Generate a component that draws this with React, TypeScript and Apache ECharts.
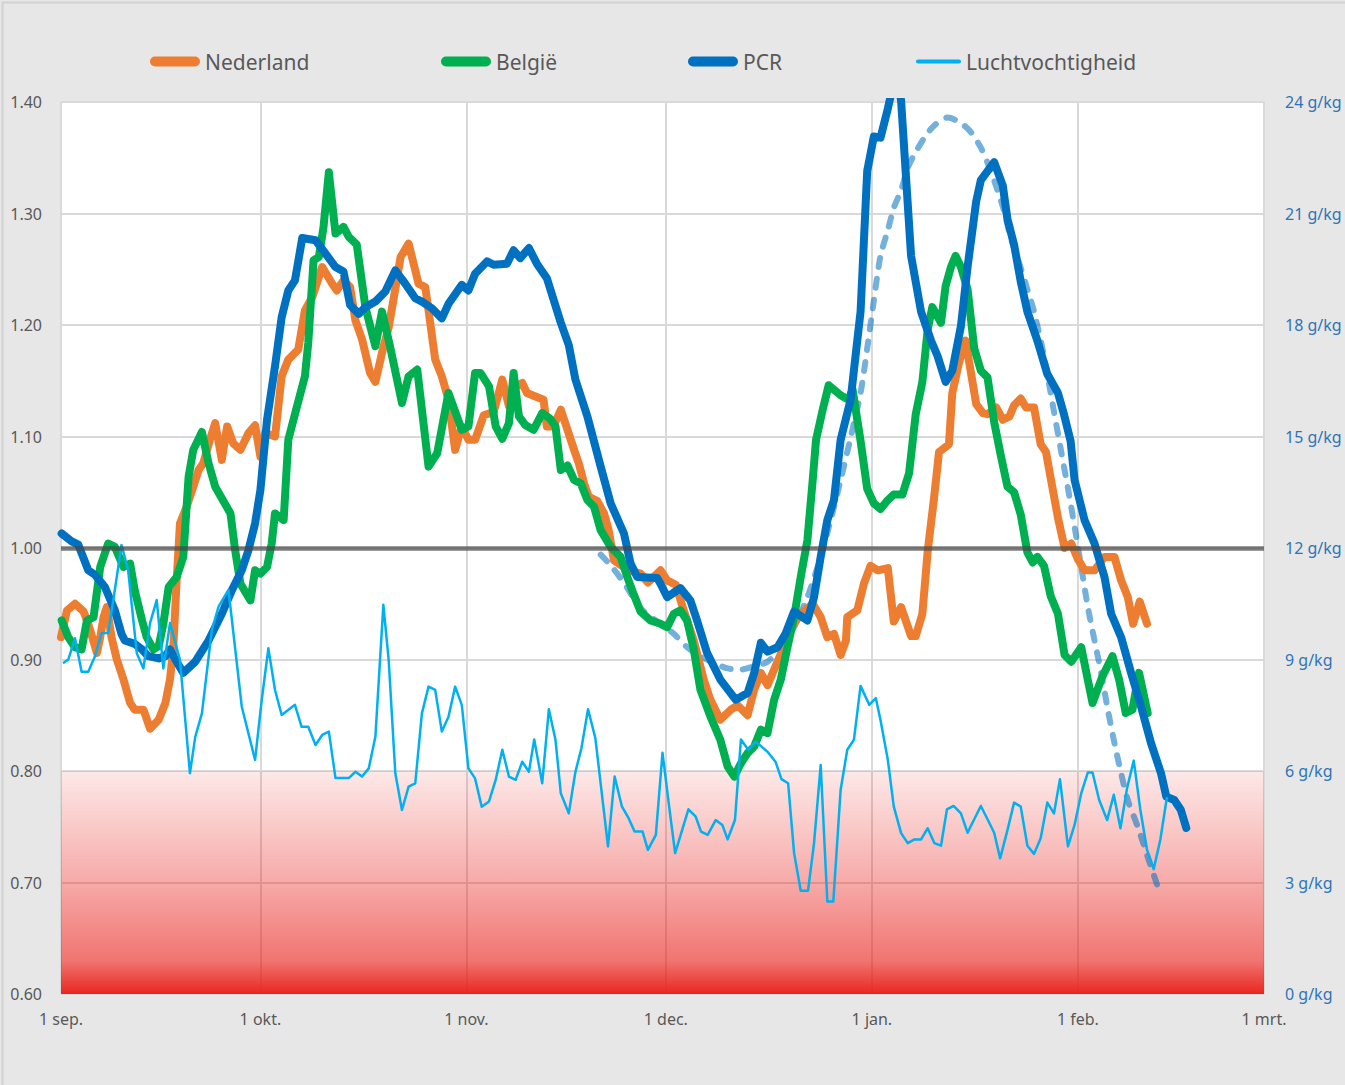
import React, { useEffect, useRef } from "react";
import * as echarts from "echarts";

// Day offsets counted from 1 September; month starts carry the axis labels.
const monthTicks = [0, 30, 61, 91, 122, 153, 181];
const monthLabels = ["1 sep.", "1 okt.", "1 nov.", "1 dec.", "1 jan.", "1 feb.", "1 mrt."];

const legendNames = ["Nederland", "België", "PCR", "Luchtvochtigheid"];

// [day, R-value]
const nederland: [number, number][] = [
  [0, 0.92], [0.9, 0.944], [2.1, 0.95], [3.4, 0.943], [4.1, 0.932], [5.4, 0.906], [5.9, 0.92], [6.4, 0.938],
  [6.9, 0.947], [7.6, 0.92], [8.4, 0.9], [9.4, 0.882], [10.4, 0.861], [11.1, 0.855], [12.4, 0.855], [13.4, 0.838],
  [14.7, 0.846], [15.7, 0.861], [16.4, 0.882], [16.9, 0.911], [17.4, 0.971], [17.9, 1.022], [18.9, 1.037],
  [19.9, 1.055], [20.7, 1.07], [21.4, 1.076], [22.4, 1.097], [23.2, 1.112], [24.2, 1.079], [25.0, 1.109],
  [25.9, 1.094], [27.0, 1.088], [28.2, 1.103], [29.2, 1.11], [30.0, 1.082], [30.7, 1.103], [32.2, 1.1],
  [33.2, 1.154], [34.2, 1.169], [35.7, 1.178], [36.7, 1.213], [37.8, 1.225], [39.3, 1.252], [40.8, 1.237],
  [41.5, 1.231], [42.5, 1.24], [43.5, 1.234], [44.3, 1.204], [45.3, 1.187], [46.5, 1.157], [47.3, 1.149],
  [48.3, 1.175], [49.3, 1.198], [50.0, 1.222], [51.1, 1.261], [52.3, 1.273], [53.3, 1.249], [53.8, 1.237],
  [54.8, 1.234], [55.3, 1.213], [56.3, 1.169], [57.3, 1.154], [58.3, 1.133], [59.3, 1.088], [60.3, 1.109],
  [61.3, 1.097], [62.3, 1.097], [63.6, 1.119], [65.1, 1.122], [66.4, 1.151], [67.4, 1.127], [68.4, 1.145],
  [69.4, 1.148], [70.1, 1.139], [72.6, 1.133], [73.1, 1.109], [74.1, 1.109], [75.2, 1.124], [76.2, 1.106],
  [77.2, 1.088], [77.9, 1.076], [78.7, 1.058], [79.4, 1.046], [80.7, 1.042], [81.7, 1.031], [82.4, 1.016],
  [83.2, 0.989], [83.9, 0.986], [85.4, 0.98], [87.2, 0.977], [88.3, 0.969], [90.2, 0.98], [91.2, 0.971],
  [92.5, 0.967], [93.7, 0.944], [95.2, 0.917], [96.7, 0.882], [97.7, 0.864], [99.2, 0.846], [100.8, 0.855],
  [101.8, 0.859], [103.3, 0.85], [104.3, 0.873], [105.3, 0.888], [106.3, 0.877], [107.3, 0.891], [108.8, 0.912],
  [110.0, 0.929], [111.3, 0.941], [113.1, 0.95], [114.3, 0.938], [115.3, 0.92], [116.3, 0.923], [117.3, 0.904],
  [118.1, 0.917], [118.3, 0.938], [119.8, 0.944], [120.8, 0.968], [121.8, 0.984], [122.9, 0.98], [124.4, 0.982],
  [125.3, 0.934], [126.4, 0.947], [127.9, 0.921], [128.6, 0.921], [129.6, 0.941], [130.4, 0.997], [131.4, 1.047],
  [132.1, 1.086], [133.6, 1.093], [134.1, 1.139], [135.1, 1.166], [136.1, 1.186], [137.7, 1.129], [138.7, 1.121],
  [139.4, 1.12], [140.7, 1.126], [141.7, 1.115], [142.7, 1.118], [143.4, 1.128], [144.4, 1.134], [145.2, 1.126],
  [146.4, 1.126], [147.4, 1.093], [148.2, 1.086], [149.2, 1.053], [150.0, 1.027], [151.0, 1.0], [152.0, 1.004],
  [153.0, 0.99], [154.0, 0.98], [155.5, 0.98], [157.0, 0.992], [158.5, 0.992], [159.5, 0.971], [160.5, 0.956],
  [161.3, 0.932], [162.3, 0.952], [163.4, 0.932],
];

const belgie: [number, number][] = [
  [0.1, 0.935], [1.1, 0.92], [2.1, 0.911], [3.1, 0.909], [3.9, 0.935], [4.9, 0.938], [5.9, 0.983], [7.1, 1.004],
  [8.1, 1.001], [9.4, 0.983], [10.4, 0.986], [11.1, 0.962], [12.2, 0.935], [12.9, 0.92], [13.9, 0.909],
  [14.7, 0.912], [15.4, 0.932], [16.2, 0.965], [17.4, 0.974], [18.4, 0.992], [19.2, 1.064], [19.9, 1.088],
  [21.2, 1.104], [22.2, 1.076], [23.2, 1.055], [25.5, 1.031], [26.2, 0.998], [27.0, 0.968], [28.5, 0.953],
  [29.2, 0.98], [30.0, 0.977], [31.0, 0.983], [31.7, 1.004], [32.2, 1.031], [33.5, 1.025], [34.2, 1.097],
  [35.5, 1.127], [36.7, 1.154], [37.2, 1.184], [38.0, 1.258], [38.8, 1.261], [39.5, 1.288], [40.3, 1.337],
  [41.3, 1.282], [42.5, 1.288], [43.3, 1.279], [44.5, 1.272], [45.8, 1.216], [47.3, 1.181], [48.3, 1.212],
  [49.5, 1.181], [51.3, 1.13], [52.3, 1.154], [53.6, 1.16], [55.3, 1.073], [56.6, 1.085], [58.3, 1.139],
  [60.3, 1.106], [61.3, 1.109], [62.3, 1.157], [63.1, 1.157], [64.4, 1.145], [65.4, 1.109], [66.4, 1.098],
  [67.4, 1.112], [68.1, 1.157], [68.9, 1.118], [69.9, 1.11], [71.1, 1.106], [72.4, 1.121], [73.6, 1.116],
  [74.4, 1.109], [75.2, 1.07], [76.2, 1.074], [77.2, 1.061], [78.2, 1.058], [79.2, 1.043], [80.2, 1.037],
  [81.2, 1.016], [82.7, 1.001], [84.2, 0.992], [85.2, 0.974], [86.0, 0.961], [87.2, 0.943], [88.7, 0.935],
  [90.2, 0.932], [91.2, 0.929], [92.2, 0.941], [93.2, 0.944], [94.2, 0.935], [95.2, 0.909], [96.2, 0.873],
  [97.7, 0.849], [99.2, 0.828], [100.3, 0.804], [101.3, 0.795], [102.3, 0.807], [103.3, 0.816], [104.3, 0.822],
  [105.3, 0.837], [106.3, 0.834], [107.3, 0.864], [108.3, 0.882], [109.3, 0.911], [110.3, 0.938], [111.3, 0.974],
  [112.3, 1.007], [113.1, 1.061], [113.6, 1.097], [114.6, 1.124], [115.5, 1.146], [117.3, 1.137], [118.5, 1.133],
  [119.1, 1.142], [120.3, 1.096], [121.3, 1.053], [122.3, 1.04], [123.3, 1.035], [124.4, 1.043], [125.3, 1.048],
  [126.6, 1.048], [127.6, 1.067], [128.6, 1.12], [129.6, 1.149], [130.4, 1.196], [131.1, 1.216], [132.4, 1.202],
  [133.1, 1.235], [133.9, 1.252], [134.6, 1.262], [135.4, 1.252], [136.4, 1.232], [137.4, 1.179], [138.4, 1.159],
  [139.4, 1.153], [140.4, 1.113], [141.4, 1.083], [142.4, 1.055], [143.4, 1.05], [144.4, 1.03], [145.4, 0.996],
  [146.2, 0.987], [146.9, 0.992], [147.9, 0.984], [148.9, 0.957], [150.0, 0.941], [151.0, 0.904], [152.0, 0.898],
  [153.5, 0.911], [155.2, 0.861], [156.7, 0.885], [158.2, 0.903], [159.2, 0.882], [160.2, 0.852], [161.2, 0.855],
  [162.2, 0.888], [163.5, 0.852],
];

const pcr: [number, number][] = [
  [0.1, 1.013], [1.6, 1.006], [2.6, 1.003], [4.1, 0.98], [5.1, 0.976], [6.6, 0.965], [8.1, 0.944], [9.1, 0.923],
  [9.6, 0.917], [11.1, 0.914], [12.2, 0.909], [13.1, 0.903], [14.7, 0.901], [15.7, 0.903], [16.4, 0.909],
  [17.2, 0.9], [18.4, 0.888], [20.2, 0.898], [22.2, 0.917], [24.2, 0.941], [25.7, 0.962], [27.2, 0.98],
  [28.2, 0.998], [29.2, 1.022], [30.0, 1.052], [31.0, 1.115], [32.2, 1.163], [33.2, 1.207], [34.2, 1.231],
  [35.2, 1.24], [36.3, 1.278], [38.3, 1.276], [39.8, 1.264], [41.3, 1.252], [42.5, 1.248], [43.5, 1.218],
  [44.8, 1.21], [45.8, 1.216], [47.3, 1.221], [48.8, 1.23], [50.3, 1.249], [51.8, 1.237], [53.3, 1.224],
  [54.3, 1.221], [55.8, 1.215], [57.3, 1.206], [58.3, 1.219], [60.3, 1.236], [61.3, 1.231], [62.3, 1.246],
  [64.1, 1.257], [65.1, 1.254], [67.1, 1.255], [68.1, 1.267], [69.1, 1.26], [70.4, 1.269], [71.6, 1.255],
  [73.1, 1.242], [75.2, 1.202], [76.4, 1.182], [77.4, 1.151], [79.2, 1.118], [81.2, 1.073], [82.7, 1.04],
  [84.7, 1.013], [85.7, 0.986], [86.7, 0.974], [89.7, 0.973], [90.2, 0.968], [91.2, 0.956], [93.2, 0.964],
  [94.7, 0.953], [95.7, 0.935], [97.2, 0.906], [99.2, 0.882], [101.5, 0.864], [103.3, 0.87], [104.3, 0.888],
  [105.3, 0.915], [106.3, 0.907], [107.8, 0.911], [109.0, 0.923], [110.3, 0.943], [112.3, 0.935], [113.3, 0.956],
  [114.3, 0.992], [115.3, 1.025], [116.3, 1.043], [117.3, 1.097], [118.8, 1.133], [120.3, 1.212], [121.3, 1.338],
  [122.3, 1.369], [123.3, 1.368], [124.4, 1.394], [125.2, 1.415], [126.1, 1.413], [126.4, 1.401], [127.9, 1.262],
  [129.4, 1.212], [130.9, 1.186], [131.9, 1.172], [133.1, 1.149], [134.1, 1.159], [135.4, 1.199], [136.4, 1.252],
  [137.7, 1.311], [138.4, 1.33], [140.4, 1.346], [141.7, 1.325], [142.4, 1.295], [143.4, 1.272], [144.4, 1.239],
  [145.4, 1.212], [146.9, 1.186], [148.4, 1.156], [150.0, 1.139], [150.9, 1.12], [151.9, 1.096], [152.5, 1.061],
  [154.0, 1.025], [155.5, 1.004], [157.0, 0.974], [158.0, 0.941], [159.5, 0.92], [161.0, 0.888], [162.5, 0.858],
  [164.0, 0.825], [165.5, 0.798], [166.3, 0.777], [167.5, 0.774], [168.5, 0.765], [169.3, 0.749],
];

// [day, g/kg]
const luchtvochtigheid: [number, number][] = [
  [0.3, 8.9], [1.1, 9.0], [2.1, 9.57], [3.1, 8.67], [4.1, 8.67], [5.1, 9.08], [6.1, 9.71], [7.1, 9.71],
  [8.1, 10.87], [9.1, 12.08], [10.1, 11.41], [11.4, 9.17], [12.4, 8.76], [13.4, 9.98], [14.4, 10.6], [15.4, 8.76],
  [16.4, 9.98], [17.9, 8.99], [19.4, 5.94], [20.2, 6.92], [21.2, 7.55], [22.7, 9.8], [23.7, 10.42], [25.2, 10.87],
  [27.2, 7.73], [29.2, 6.3], [30.2, 7.91], [31.2, 9.3], [32.2, 8.18], [33.2, 7.51], [35.2, 7.78], [36.2, 7.19],
  [37.2, 7.19], [38.3, 6.7], [39.3, 6.97], [40.3, 7.06], [41.3, 5.81], [43.3, 5.81], [44.3, 5.98], [45.3, 5.85],
  [46.3, 6.07], [47.3, 6.92], [48.5, 10.47], [49.3, 8.99], [50.3, 5.94], [51.3, 4.95], [52.3, 5.58], [53.3, 5.67],
  [54.3, 7.55], [55.3, 8.27], [56.3, 8.18], [57.3, 7.06], [58.3, 7.46], [59.3, 8.27], [60.3, 7.78], [61.3, 6.07],
  [62.3, 5.8], [63.3, 5.04], [64.4, 5.18], [65.4, 5.76], [66.4, 6.57], [67.4, 5.85], [68.4, 5.76], [69.4, 6.25],
  [70.4, 5.98], [71.2, 6.85], [72.4, 5.67], [73.4, 7.66], [74.4, 6.84], [75.2, 5.4], [76.4, 4.86], [77.4, 5.98],
  [78.3, 6.61], [79.3, 7.66], [80.4, 6.88], [82.3, 3.97], [83.3, 5.85], [84.4, 5.04], [85.4, 4.73], [86.3, 4.37],
  [87.5, 4.37], [88.3, 3.88], [89.5, 4.28], [90.5, 6.49], [91.5, 5.04], [92.4, 3.79], [94.4, 4.97], [95.5, 4.77],
  [96.3, 4.37], [97.3, 4.28], [98.5, 4.68], [99.5, 4.55], [100.3, 4.16], [101.4, 4.68], [102.3, 6.85], [103.4, 6.57],
  [104.5, 6.79], [106.3, 6.52], [107.5, 6.25], [108.4, 5.78], [109.4, 5.67], [110.3, 3.79], [111.3, 2.78],
  [112.4, 2.78], [113.3, 4.06], [114.3, 6.16], [115.3, 2.49], [116.2, 2.49], [117.3, 5.49], [118.3, 6.57],
  [119.3, 6.84], [120.3, 8.29], [121.6, 7.78], [122.6, 7.96], [123.3, 7.37], [124.4, 6.3], [125.3, 5.04],
  [126.4, 4.33], [127.4, 4.06], [128.4, 4.16], [129.4, 4.16], [130.4, 4.46], [131.4, 4.06], [132.4, 3.99],
  [133.3, 4.97], [134.3, 5.06], [135.4, 4.86], [136.4, 4.34], [137.4, 4.7], [138.4, 5.06], [139.4, 4.7],
  [140.4, 4.34], [141.3, 3.65], [142.4, 4.41], [143.4, 5.15], [144.4, 5.04], [145.4, 3.99], [146.4, 3.77],
  [147.4, 4.19], [148.4, 5.15], [149.4, 4.86], [150.3, 5.78], [151.5, 3.97], [152.5, 4.55], [153.5, 5.4],
  [154.5, 5.96], [155.2, 5.96], [156.2, 5.22], [157.4, 4.68], [158.4, 5.36], [159.4, 4.46], [160.4, 5.54],
  [161.4, 6.28], [162.4, 4.95], [163.4, 3.88], [164.4, 3.36], [165.4, 4.15], [166.4, 5.3],
];

// Smoothed PCR trend (dashed, not in the legend)
const trend: [number, number][] = [
  [81.2, 0.994], [82.9, 0.983], [84.9, 0.967], [87.2, 0.946], [90.2, 0.932], [92.2, 0.923], [94.2, 0.911],
  [96.2, 0.903], [98.2, 0.897], [100.3, 0.892], [102.3, 0.891], [104.3, 0.894], [106.3, 0.898], [108.3, 0.911],
  [110.3, 0.929], [112.3, 0.956], [114.3, 0.992], [115.8, 1.025], [117.3, 1.061], [118.8, 1.099], [120.3, 1.139],
  [121.3, 1.179], [122.3, 1.222], [123.3, 1.262], [124.4, 1.285], [125.3, 1.305], [126.4, 1.321], [127.4, 1.341],
  [128.4, 1.353], [129.9, 1.368], [131.4, 1.379], [133.4, 1.386], [135.4, 1.381], [136.9, 1.373], [138.4, 1.359],
  [139.7, 1.341], [140.9, 1.321], [141.9, 1.302], [142.9, 1.278], [144.2, 1.255], [145.4, 1.232], [146.4, 1.212],
  [147.9, 1.172], [149.2, 1.129], [150.5, 1.086], [151.7, 1.047], [152.7, 1.012], [153.5, 0.983], [154.5, 0.947],
  [155.5, 0.917], [156.5, 0.888], [157.5, 0.855], [158.5, 0.825], [159.5, 0.798], [160.5, 0.774], [162.0, 0.75],
  [163.5, 0.723], [165.2, 0.693],
];

const FONT = "Noto Sans";
const GRID_COLOR = "#D9D9D9";
// Pill-shaped legend markers
const PILL = "path://M5,0 H45 A5,5 0 0 1 45,10 H5 A5,5 0 0 1 5,0 Z";
const THIN_PILL = "path://M2,0 H43 A2,2 0 0 1 43,4 H2 A2,2 0 0 1 2,0 Z";

export default function App() {
  const ref = useRef<HTMLDivElement>(null);

  useEffect(() => {
    if (!ref.current) return;
    const chart = echarts.init(ref.current, null, { renderer: "svg" });

    const thick = (color: string) => ({
      color,
      width: 8,
      cap: "round",
      join: "round",
    });

    const legendLeft = [150, 441, 688, 916];

    chart.setOption({
      animation: false,
      backgroundColor: "#E7E7E7",
      textStyle: { fontFamily: FONT },
      graphic: [
        {
          type: "rect",
          left: 0,
          top: 0,
          shape: { x: 0, y: 0, width: 1344, height: 1084 },
          style: { fill: "none", stroke: "#D2D2D2", lineWidth: 2 },
          silent: true,
        },
      ],
      legend: legendNames.map((name, i) => ({
        data: [name],
        left: legendLeft[i],
        top: 51,
        padding: 0,
        icon: i === 3 ? THIN_PILL : PILL,
        itemWidth: i === 3 ? 45 : 50,
        itemHeight: i === 3 ? 4 : 10,
        itemGap: 0,
        selectedMode: false,
        textStyle: { color: "#595959", fontSize: 21, fontFamily: FONT },
      })),
      grid: {
        left: 61,
        right: 81,
        top: 102,
        bottom: 91,
        show: true,
        backgroundColor: "#FFFFFF",
        borderWidth: 0,
      },
      xAxis: {
        type: "value",
        min: 0,
        max: 181,
        axisLine: { show: false },
        axisTick: { show: false, customValues: monthTicks },
        axisLabel: {
          customValues: monthTicks,
          formatter: (v: number) => {
            const i = monthTicks.indexOf(Math.round(v));
            return i >= 0 ? monthLabels[i] : "";
          },
          color: "#595959",
          fontSize: 16,
          fontFamily: FONT,
          margin: 17,
        },
        splitLine: { show: true, lineStyle: { color: GRID_COLOR, width: 2 } },
      },
      yAxis: [
        {
          type: "value",
          min: 0.6,
          max: 1.4,
          interval: 0.1,
          position: "left",
          axisLine: { show: false },
          axisTick: { show: false },
          axisLabel: {
            formatter: (v: number) => v.toFixed(2),
            color: "#595959",
            fontSize: 16,
            fontFamily: FONT,
            margin: 19,
          },
          splitLine: { show: true, lineStyle: { color: GRID_COLOR, width: 2 } },
        },
        {
          type: "value",
          min: 0,
          max: 24,
          interval: 3,
          position: "right",
          axisLine: { show: false },
          axisTick: { show: false },
          axisLabel: {
            formatter: (v: number) => `${v} g/kg`,
            color: "#2E75B6",
            fontSize: 16,
            fontFamily: FONT,
            margin: 21,
          },
          splitLine: { show: false },
        },
      ],
      series: [
        {
          name: "Trend",
          type: "line",
          data: trend,
          smooth: 0.3,
          symbol: "none",
          lineStyle: {
            color: "rgba(0,112,192,0.55)",
            width: 6,
            type: [9, 12],
            cap: "round",
          },
          z: 2,
        },
        {
          name: "Nederland",
          type: "line",
          data: nederland,
          symbol: "none",
          color: "#ED7D31",
          lineStyle: thick("#ED7D31"),
          z: 3,
          markArea: {
            silent: true,
            itemStyle: {
              color: new echarts.graphic.LinearGradient(0, 0, 0, 1, [
                { offset: 0, color: "rgba(232,32,26,0.1)" },
                { offset: 0.5, color: "rgba(232,32,26,0.38)" },
                { offset: 0.85, color: "rgba(232,32,26,0.62)" },
                { offset: 1, color: "rgba(232,32,26,0.97)" },
              ]),
            },
            data: [[{ yAxis: 0.6 }, { yAxis: 0.8 }]],
          },
        },
        {
          name: "België",
          type: "line",
          data: belgie,
          symbol: "none",
          color: "#00B050",
          lineStyle: thick("#00B050"),
          z: 4,
        },
        {
          name: "PCR",
          type: "line",
          data: pcr,
          symbol: "none",
          color: "#0070C0",
          lineStyle: thick("#0070C0"),
          z: 5,
          markLine: {
            silent: true,
            symbol: ["none", "none"],
            label: { show: false },
            lineStyle: { color: "rgba(70,70,70,0.7)", width: 4.5, type: "solid" },
            data: [{ yAxis: 1.0 }],
            z: 10,
          },
        },
        {
          name: "Luchtvochtigheid",
          type: "line",
          yAxisIndex: 1,
          data: luchtvochtigheid,
          symbol: "none",
          color: "#00B0F0",
          lineStyle: { color: "#00B0F0", width: 2.5, join: "round" },
          z: 6,
        },
      ],
    });

    return () => chart.dispose();
  }, []);

  return (
    <div
      ref={ref}
      style={{ position: "fixed", left: 0, top: 0, width: 1345, height: 1085 }}
    />
  );
}
